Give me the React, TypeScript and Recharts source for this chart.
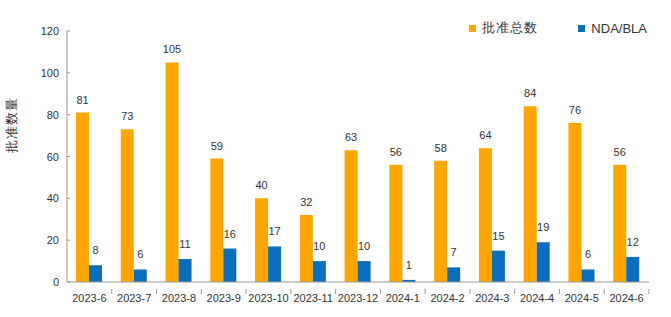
import { BarChart, Bar, XAxis, YAxis, LabelList, Legend } from 'recharts';

const months = ['2023-6', '2023-7', '2023-8', '2023-9', '2023-10', '2023-11', '2023-12', '2024-1', '2024-2', '2024-3', '2024-4', '2024-5', '2024-6'];
const totalApprovals = [81, 73, 105, 59, 40, 32, 63, 56, 58, 64, 84, 76, 56];
const ndaBla = [8, 6, 11, 16, 17, 10, 10, 1, 7, 15, 19, 6, 12];
const yTicks = [0, 20, 40, 60, 80, 100, 120];

const ORANGE = '#FFA500';
const BLUE = '#0B6DBD';
const FONT = '"Liberation Sans", Arial, sans-serif';

const data = months.map((m, i) => ({ month: m, total: totalApprovals[i], nda: ndaBla[i] }));

const BAND = (649 - 67) / months.length;

function MonthTick(props: any) {
  const { x, y, payload } = props;
  const left = x + BAND / 2;
  return (
    <g>
      <line x1={left} y1={y - 1} x2={left} y2={y + 4} stroke="#999" />
      <text x={x} y={y + 12} textAnchor="middle" fontSize={11} fill="#333" fontFamily={FONT}>
        {payload.value}
      </text>
    </g>
  );
}

function YTick(props: any) {
  const { x, y, payload } = props;
  return (
    <g>
      <line x1={67} y1={y} x2={70} y2={y} stroke="#999" />
      <text x={x} y={y + 4} textAnchor="end" fontSize={11} fill="#333" fontFamily={FONT}>
        {payload.value}
      </text>
    </g>
  );
}

function renderLegend() {
  const items = [
    { name: '批准总数', color: ORANGE },
    { name: 'NDA/BLA', color: BLUE },
  ];
  return (
    <div style={{ display: 'flex', gap: 40, fontFamily: FONT, fontSize: 13, color: '#333' }}>
      {items.map((it) => (
        <div key={it.name} style={{ display: 'flex', alignItems: 'center' }}>
          <span style={{ width: 7, height: 7, background: it.color, marginRight: 6 }} />
          <span style={{ letterSpacing: it.name === '批准总数' ? 1 : 0 }}>{it.name}</span>
        </div>
      ))}
    </div>
  );
}

export default function App() {
  return (
    <div style={{ position: 'absolute', left: 0, top: 0, width: 671, height: 317, background: '#fff' }}>
      <BarChart
        width={671}
        height={317}
        data={data}
        margin={{ top: 13, right: 22, left: 0, bottom: 0 }}
        barGap={0}
        barCategoryGap={9}
      >
        <XAxis
          dataKey="month"
          height={35}
          interval={0}
          tickLine={false}
          axisLine={{ stroke: '#999' }}
          tick={<MonthTick />}
        />
        <YAxis
          width={67}
          domain={[0, 120]}
          ticks={yTicks}
          tickLine={false}
          axisLine={{ stroke: '#999' }}
          tick={<YTick />}
          label={{
            value: '批准数量',
            angle: -90,
            position: 'insideLeft',
            dx: 6,
            dy: -32,
            style: { fontSize: 13, fill: '#333', fontFamily: FONT, textAnchor: 'middle', letterSpacing: 1 },
          }}
        />
        <Legend
          verticalAlign="top"
          align="right"
          content={renderLegend}
          wrapperStyle={{ top: 19, right: 24, left: 'auto', width: 'auto' }}
        />
        <Bar dataKey="total" name="批准总数" fill={ORANGE} isAnimationActive={false}>
          <LabelList dataKey="total" position="top" offset={9} fontSize={11} fill="#333" fontFamily={FONT} />
        </Bar>
        <Bar dataKey="nda" name="NDA/BLA" fill={BLUE} isAnimationActive={false}>
          <LabelList dataKey="nda" position="top" offset={11} fontSize={11} fill="#333" fontFamily={FONT} />
        </Bar>
      </BarChart>
    </div>
  );
}
